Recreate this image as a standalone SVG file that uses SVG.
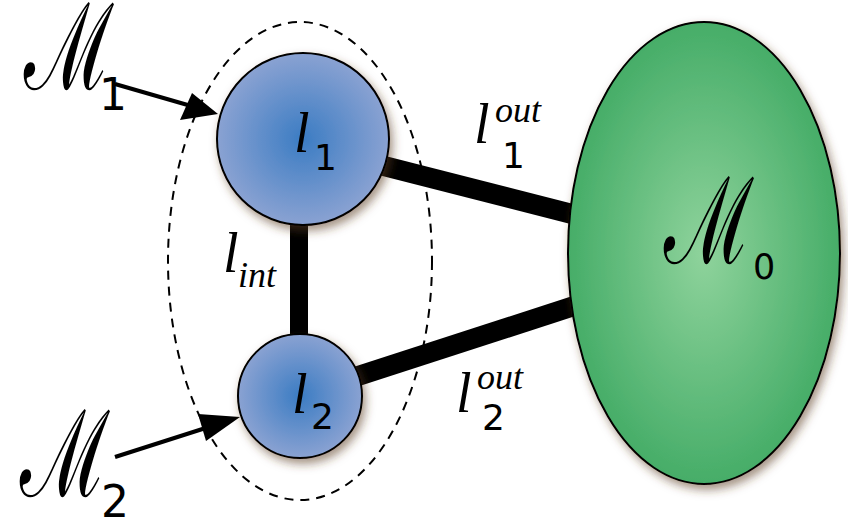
<svg xmlns="http://www.w3.org/2000/svg" width="848" height="520" viewBox="0 0 848 520">
<style>
.it{font-family:"Liberation Serif","DejaVu Serif",serif;font-style:italic;fill:#000}
.sc{font-family:"Liberation Serif",serif;font-style:normal;fill:#000}
.sub{font-family:"DejaVu Sans","Liberation Sans",sans-serif;fill:#000}
.edge{stroke:#000;stroke-linecap:butt;fill:none}
</style>
<defs>
<radialGradient id="blue" cx="0.5" cy="0.5" r="0.5">
<stop offset="0" stop-color="#3b7cc3"/>
<stop offset="1" stop-color="#8aa2d2"/>
</radialGradient>
<radialGradient id="green" cx="0.5" cy="0.5" r="0.5">
<stop offset="0" stop-color="#8fd39c"/>
<stop offset="1" stop-color="#46ad68"/>
</radialGradient>
<filter id="sh" x="-20%" y="-20%" width="150%" height="150%">
<feDropShadow dx="3" dy="5" stdDeviation="5" flood-color="#5a3a20" flood-opacity="0.55"/>
</filter>
</defs>
<rect width="848" height="520" fill="#fff"/>
<g id="group-boundary">
<ellipse cx="300" cy="261" rx="132" ry="239" fill="none" stroke="#000" stroke-width="2" stroke-dasharray="9,7"/>
</g>
<g id="connectors">
<line class="edge" x1="299" y1="220" x2="299" y2="340" stroke-width="18"/>
<line class="edge" x1="380" y1="165" x2="572" y2="214" stroke-width="20"/>
<line class="edge" x1="355" y1="377" x2="574" y2="306" stroke-width="20"/>
<line x1="115" y1="84" x2="205" y2="110" stroke="#000" stroke-width="4"/>
<path d="M218,114 L180,120 L192,93 z" fill="#000"/>
<line x1="115" y1="457" x2="215" y2="425" stroke="#000" stroke-width="4"/>
<path d="M240,417 L206,441 L198,414 z" fill="#000"/>
</g>
<g id="node-M0">
<ellipse cx="704" cy="253" rx="136" ry="231" fill="url(#green)" stroke="#000" stroke-width="2" filter="url(#sh)"/>
<text class="sc" font-size="120" transform="translate(664,263) scale(0.65,1)">ℳ</text>
<text class="sub" x="753" y="279" font-size="35">0</text>
</g>
<g id="node-l1">
<circle cx="303" cy="139" r="86" fill="url(#blue)" stroke="#000" stroke-width="2" filter="url(#sh)"/>
<text class="it" x="294" y="152" font-size="56">l</text>
<text class="sub" x="314" y="170" font-size="36">1</text>
</g>
<g id="node-l2">
<circle cx="300" cy="396" r="62" fill="url(#blue)" stroke="#000" stroke-width="2" filter="url(#sh)"/>
<text class="it" x="292" y="413" font-size="56">l</text>
<text class="sub" x="311" y="429" font-size="36">2</text>
</g>
<g id="labels">
<text class="sc" font-size="120" transform="translate(24,89) scale(0.65,1)">ℳ</text>
<text class="sub" x="99" y="110" font-size="44">1</text>
<text class="sc" font-size="120" transform="translate(20,496) scale(0.65,1)">ℳ</text>
<text class="sub" x="101" y="517" font-size="44">2</text>
<text class="it" x="223" y="272" font-size="56">l</text>
<text class="it" x="238" y="287" font-size="36">int</text>
<text class="it" x="474" y="143" font-size="56">l</text>
<text class="it" x="495" y="122" font-size="36">out</text>
<text class="sub" x="502" y="168" font-size="36">1</text>
<text class="it" x="456" y="412" font-size="56">l</text>
<text class="it" x="477" y="389" font-size="36">out</text>
<text class="sub" x="482" y="430" font-size="36">2</text>
</g>
</svg>
